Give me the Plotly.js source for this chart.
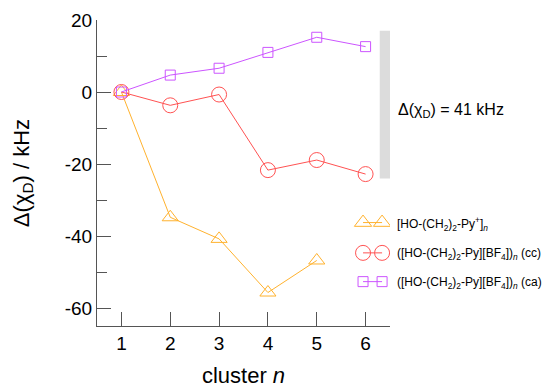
<!DOCTYPE html>
<html>
<head>
<meta charset="utf-8">
<script src="https://cdn.plot.ly/plotly-3.0.1.min.js"></script>
<style>html,body{margin:0;padding:0;background:#fff;}#chart{width:550px;height:392px;}</style>
</head>
<body>
<div id="chart"></div>
<script>
// ---- data ----
const clusterN = [1, 2, 3, 4, 5, 6];
const cationValues = [0, -34.8, -40.8, -55.7, -46.8];          // [HO-(CH2)2-Py+]n
const ionPairCC = [0, -3.7, -0.7, -21.7, -18.9, -22.8];        // (cc)
const ionPairCA = [0, 4.7, 6.6, 11.0, 15.2, 12.6];             // (ca)
const yTickVals = [-60, -40, -20, 0, 20];
const yTickText = ["-60", "-40", "-20", "0", "20"];
const seriesNames = [
  "[HO-(CH<sub>2</sub>)<sub>2</sub>-Py<sup>+</sup>]<sub><i>n</i></sub>",
  "([HO-(CH<sub>2</sub>)<sub>2</sub>-Py][BF<sub>4</sub>])<sub><i>n</i></sub> (cc)",
  "([HO-(CH<sub>2</sub>)<sub>2</sub>-Py][BF<sub>4</sub>])<sub><i>n</i></sub> (ca)"
];
const spanLabel = "Δ(χ<sub>D</sub>) = 41 kHz";
const spanRange = [-24, 17];   // 41 kHz

const orange = "#ffb22e", red = "#ff5252", purple = "#cc55ff";
const font = "'Liberation Sans', Arial, sans-serif";

const traces = [
  {x: clusterN.slice(0, cationValues.length), y: cationValues, mode: "lines+markers",
   line: {color: orange, width: 1}, marker: {symbol: "triangle-up-open", size: 14, color: orange, line: {width: 1, color: orange}}},
  {x: clusterN, y: ionPairCC, mode: "lines+markers",
   line: {color: red, width: 1}, marker: {symbol: "circle-open", size: 15, color: red, line: {width: 1, color: red}}},
  {x: clusterN, y: ionPairCA, mode: "lines+markers",
   line: {color: purple, width: 1}, marker: {symbol: "square-open", size: 10, color: purple, line: {width: 1, color: purple}}}
];

// legend glyphs (two markers joined by a line) drawn on a hidden helper axis
const legendGlyphX = [0.908, 0.973];
const legendRowsY = [0.338, 0.239, 0.145];
const legendStyles = [
  {color: orange, symbol: "triangle-up-open", size: 15},
  {color: red, symbol: "circle-open", size: 15},
  {color: purple, symbol: "square-open", size: 10}
];
legendStyles.forEach((s, i) => {
  traces.push({x: legendGlyphX, y: [legendRowsY[i], legendRowsY[i]], xaxis: "x2", yaxis: "y2",
    mode: "lines+markers", line: {color: s.color, width: 1},
    marker: {symbol: s.symbol, size: s.size, color: s.color, line: {width: 1, color: s.color}},
    hoverinfo: "skip"});
});

const annotations = seriesNames.map((t, i) => ({
  text: t, xref: "paper", yref: "paper", x: 1.017, y: legendRowsY[i] - 0.005,
  xanchor: "left", yanchor: "middle", showarrow: false,
  font: {family: font, size: 12, color: "#000"}
}));
annotations.push({text: spanLabel, xref: "paper", yref: "paper", x: 1.02, y: 0.704,
  xanchor: "left", yanchor: "middle", showarrow: false, font: {family: font, size: 16, color: "#000"}});

const layout = {
  width: 550, height: 392,
  margin: {l: 97, r: 160, t: 20, b: 66},
  paper_bgcolor: "#fff", plot_bgcolor: "#fff",
  showlegend: false,
  font: {family: font, color: "#000"},
  xaxis: {
    range: [0.5, 6.5], tickvals: clusterN, ticks: "inside", ticklen: 14, tickcolor: "#555",
    showline: true, linecolor: "#555", linewidth: 1, showgrid: false, zeroline: false,
    tickfont: {size: 19, family: font},
    title: {text: "cluster <i>n</i>", font: {size: 22, family: font}, standoff: 14}
  },
  yaxis: {
    range: [-65, 20], tickvals: yTickVals, ticktext: yTickText, ticks: "inside", ticklen: 14, tickcolor: "#555",
    minor: {ticks: "inside", ticklen: 10, dtick: 10, tick0: 0, tickcolor: "#555"},
    showline: true, linecolor: "#555", linewidth: 1, showgrid: false, zeroline: false,
    tickfont: {size: 19, family: font},
    title: {text: "Δ(χ<sub>D</sub>) / kHz", font: {size: 22, family: font}, standoff: 29}
  },
  xaxis2: {range: [0, 1], overlaying: "x", anchor: "y2", visible: false, fixedrange: true},
  yaxis2: {range: [0, 1], overlaying: "y", anchor: "x2", visible: false, fixedrange: true},
  shapes: [{type: "rect", xref: "x", yref: "y", x0: 6.29, x1: 6.5, y0: spanRange[0], y1: spanRange[1],
    fillcolor: "#dcdcdc", line: {width: 0}, layer: "below"}],
  annotations: annotations
};

Plotly.newPlot("chart", traces, layout, {staticPlot: true, displayModeBar: false});
</script>
</body>
</html>
